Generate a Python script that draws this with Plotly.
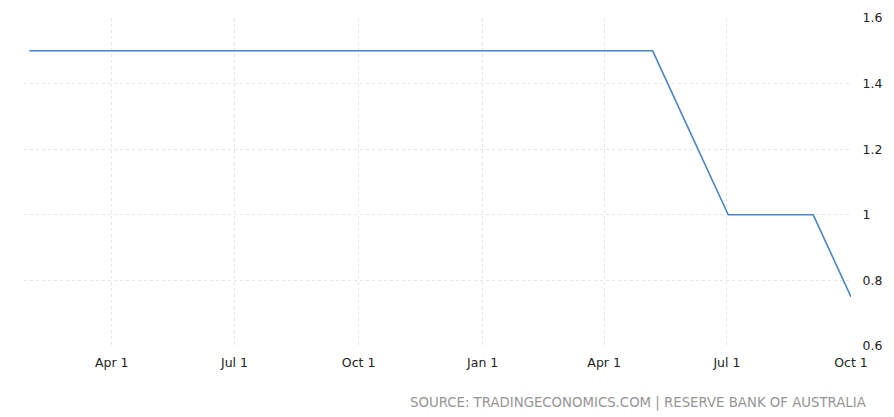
import plotly.graph_objects as go

dates = ["2018-01-30", "2018-02-06", "2018-03-06", "2018-04-03", "2018-05-01", "2018-06-05",
         "2018-07-03", "2018-08-07", "2018-09-04", "2018-10-02", "2018-11-06", "2018-12-04",
         "2019-02-05", "2019-03-05", "2019-04-02", "2019-05-07", "2019-06-04", "2019-07-02",
         "2019-08-06", "2019-09-03", "2019-10-01"]
rates = [1.5, 1.5, 1.5, 1.5, 1.5, 1.5,
         1.5, 1.5, 1.5, 1.5, 1.5, 1.5,
         1.5, 1.5, 1.5, 1.5, 1.25, 1.0,
         1.0, 1.0, 0.75]
tick_dates = ["2018-04-01", "2018-07-01", "2018-10-01", "2019-01-01", "2019-04-01", "2019-07-01", "2019-10-01"]
tick_labels = ["Apr 1", "Jul 1", "Oct 1", "Jan 1", "Apr 1", "Jul 1", "Oct 1"]
y_ticks = [0.6, 0.8, 1.0, 1.2, 1.4, 1.6]
y_labels = ["0.6", "0.8", "1", "1.2", "1.4", "1.6"]

fig = go.Figure()
fig.add_trace(go.Scatter(x=dates, y=rates, mode="lines",
                         line=dict(color="#4a86c4", width=1.6), hoverinfo="skip"))

fig.update_layout(
    width=886, height=409,
    margin=dict(l=16, r=43, t=10, b=71, autoexpand=False),
    paper_bgcolor="white", plot_bgcolor="white",
    showlegend=False,
    font=dict(family="DejaVu Sans, sans-serif", size=12.5, color="#222"),
    xaxis=dict(range=["2018-01-26", "2019-10-01"], tickmode="array",
               tickvals=tick_dates, ticktext=tick_labels, automargin=False,
               showgrid=True, gridcolor="#e6e6e6", griddash="3px,3px", gridwidth=1,
               zeroline=False, showline=False,
               ticks="outside", ticklen=5, tickcolor="rgba(0,0,0,0)"),
    yaxis=dict(range=[0.6, 1.6], side="right", tickmode="array",
               tickvals=y_ticks, ticktext=y_labels, automargin=False,
               showgrid=True, gridcolor="#e6e6e6", griddash="3px,3px", gridwidth=1,
               zeroline=False, showline=False,
               ticks="outside", ticklen=8, tickcolor="rgba(0,0,0,0)"),
    annotations=[dict(text="SOURCE: TRADINGECONOMICS.COM | RESERVE BANK OF AUSTRALIA",
                      xref="paper", yref="paper", x=1.0 + 17 / 827, y=0, yshift=-57,
                      xanchor="right", yanchor="middle", showarrow=False,
                      font=dict(size=13.3, color="#959595"))],
)

fig.write_html("out.html")
